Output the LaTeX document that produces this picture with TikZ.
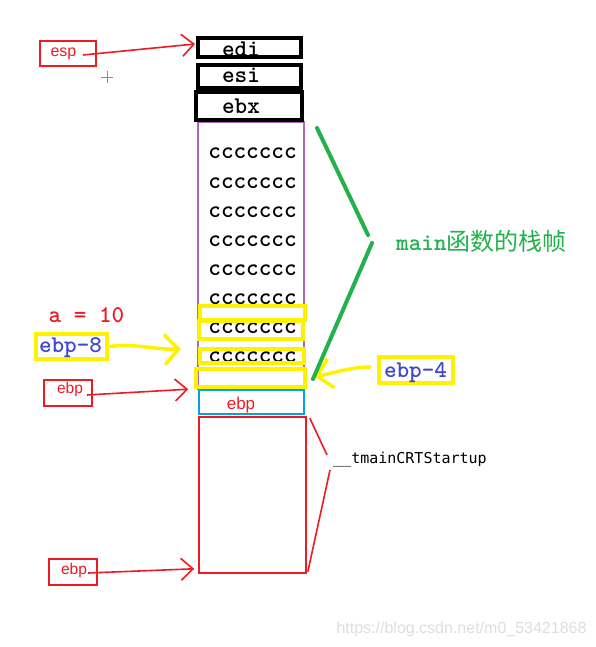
\documentclass[tikz,border=0pt]{standalone}
\usepackage{fontspec}
\usetikzlibrary{arrows.meta}
\newfontfamily\lblfont{Liberation Sans}
\newfontfamily\consfont{DejaVu Sans Mono}
\newfontfamily\cjkfont{Noto Sans CJK SC}
\definecolor{pred}{HTML}{ED1C24}
\definecolor{pyel}{HTML}{FFF200}
\definecolor{pgreen}{HTML}{22B14C}
\definecolor{pblue}{HTML}{3F48CC}
\definecolor{ppurple}{HTML}{B066B8}
\definecolor{pcyan}{HTML}{00A2E8}
\tikzset{
 blk/.style={draw=black, line width=4pt, inner sep=0pt},
 ylw/.style={draw=pyel, line width=4pt, inner sep=0pt},
 rlbl/.style={draw=pred, line width=1.6pt, inner sep=0pt},
 regtxt/.style={font=\fontsize{24}{24}\selectfont\ttfamily\bfseries, inner sep=0pt, anchor=base},
 sanstxt/.style={font=\lblfont\fontsize{16}{16}\selectfont, text=pred, inner sep=0pt, anchor=base},
 redarrow/.style={draw=pred, line width=1.6pt, -{Straight Barb[length=12pt,width=22pt]}},
 ylwarrow/.style={draw=pyel, line width=3.5pt, line cap=round, -{Straight Barb[length=14pt,width=30pt]}},
 grn/.style={draw=pgreen, line width=4pt, line cap=round},
 rbr/.style={draw=pred, line width=1.6pt},
}
\begin{document}
\begin{tikzpicture}[x=1pt,y=-1pt]
\useasboundingbox[fill=white] (0,0) rectangle (595,647);
% main frame (purple)
\node[draw=ppurple, line width=1.6pt, inner sep=0pt, minimum width=106pt, minimum height=267pt] (mainframe) at (251,255.5) {};
% cccc rows
\foreach \i/\yy in {1/159,2/188,3/217,4/246,5/275,6/304,7/333,8/362}{
  \node[regtxt] (c\i) at (252.5,\yy) {ccccccc};
}
% black register boxes
\node[blk, minimum width=103pt, minimum height=19pt] (edi) at (249.5,47.5) {};
\node[blk, minimum width=103pt, minimum height=23pt] (esi) at (249.5,76.5) {};
\node[blk, minimum width=106pt, minimum height=28pt] (ebx) at (249,106) {};
\node[regtxt] (ediT) at (241,57) {edi};
\node[regtxt] (esiT) at (241,83) {esi};
\node[regtxt] (ebxT) at (241,114) {ebx};
% yellow boxes
\node[ylw, minimum width=105pt, minimum height=14pt] (y1) at (252.5,313) {};
\node[ylw, minimum width=104pt, minimum height=18pt] (y2) at (251,330) {};
\node[ylw, minimum width=104pt, minimum height=14pt] (y3) at (252,356) {};
\node[ylw, minimum width=109pt, minimum height=18pt] (y4) at (250.5,378) {};
% cyan ebp cell
\node[draw=pcyan, line width=1.6pt, inner sep=0pt, minimum width=105pt, minimum height=24pt] (cyan) at (251.5,402) {};
\node[font=\lblfont\fontsize{17}{17}\selectfont, text=pred, inner sep=0pt, anchor=base] (cyanT) at (241,409) {ebp};
% red caller frame
\node[draw=pred, line width=1.6pt, inner sep=0pt, minimum width=107pt, minimum height=156pt] (frame) at (252.5,495) {};
% esp label
\node[rlbl, minimum width=56pt, minimum height=25pt] (esp) at (68,53.5) {};
\node[sanstxt] (espT) at (63.5,57) {esp};
% ebp labels
\node[rlbl, minimum width=48pt, minimum height=26pt] (ebpm) at (68,393) {};
\node[sanstxt, font=\lblfont\fontsize{15.5}{15.5}\selectfont] (ebpmT) at (70,393) {ebp};
\node[rlbl, minimum width=48pt, minimum height=26pt] (ebpb) at (73,572) {};
\node[sanstxt, font=\lblfont\fontsize{15.5}{15.5}\selectfont] (ebpbT) at (74,574) {ebp};
% a = 10
\node[regtxt, text=pred] (aT) at (86.5,322) {a = 10};
% ebp-8 and ebp-4
\node[ylw, minimum width=71pt, minimum height=25pt] (ebp8) at (71.5,346.5) {};
\node[regtxt, text=pblue] (ebp8T) at (70.5,352) {ebp-8};
\node[ylw, minimum width=74pt, minimum height=26pt] (ebp4) at (416,370) {};
\node[regtxt, text=pblue] (ebp4T) at (415.5,377) {ebp-4};
% main frame label
\node[inner sep=0pt, anchor=base west, text=pgreen, font=\fontsize{24}{24}\selectfont] (mainT) at (396,250) {\ttfamily\bfseries main\cjkfont\mdseries 函数的栈帧};
% tmainCRTStartup
\node[inner sep=0pt, anchor=base west, font=\consfont\fontsize{15}{15}\selectfont] (crtT) at (333,463) {\_\_tmainCRTStartup};
% watermark
\node[inner sep=0pt, anchor=base, text=black!13, font=\lblfont\fontsize{16}{16}\selectfont] (wm) at (461.5,633) {https://blog.csdn.net/m0\_53421868};
% cursor sparkle
\draw[black!45, line width=0.7pt] (101,77) -- (113,77) (107,71) -- (107,83);
% arrows
\draw[redarrow] ([xshift=-14pt,yshift=-1.5pt]esp.east) -- ([xshift=-1pt,yshift=3.5pt]edi.west);
\draw[redarrow] ([xshift=-6pt,yshift=-2pt]ebpm.east) -- ([xshift=-10pt,yshift=0pt]cyan.north west);
\draw[redarrow] ([xshift=-10pt,yshift=-1pt]ebpb.east) -- ([xshift=-4pt,yshift=5pt]frame.south west);
\draw[ylwarrow] ([xshift=1pt]ebp8.east) .. controls (135,343) and (155,350) .. ([xshift=-17pt,yshift=7pt]y3.west);
\draw[ylwarrow] ([xshift=-7pt,yshift=3pt]ebp4.west) .. controls (355,367) and (340,371) .. ([xshift=8pt,yshift=1pt]y4.east);
% green bracket
\coordinate (gb1) at (368,235);
\coordinate (gb2) at (372,243);
\draw[grn] ([xshift=13pt,yshift=-6pt]ebx.south east) -- (gb1);
\draw[grn] (gb2) -- ([xshift=6pt,yshift=-1pt]y4.east);
% red bracket
\coordinate (rb1) at (327,455);
\coordinate (rb2) at (330,470);
\draw[rbr] ([xshift=3pt,yshift=-2pt]frame.north east) -- (rb1);
\draw[rbr] (rb2) -- ([xshift=1pt,yshift=2pt]frame.south east);
\end{tikzpicture}
\end{document}
